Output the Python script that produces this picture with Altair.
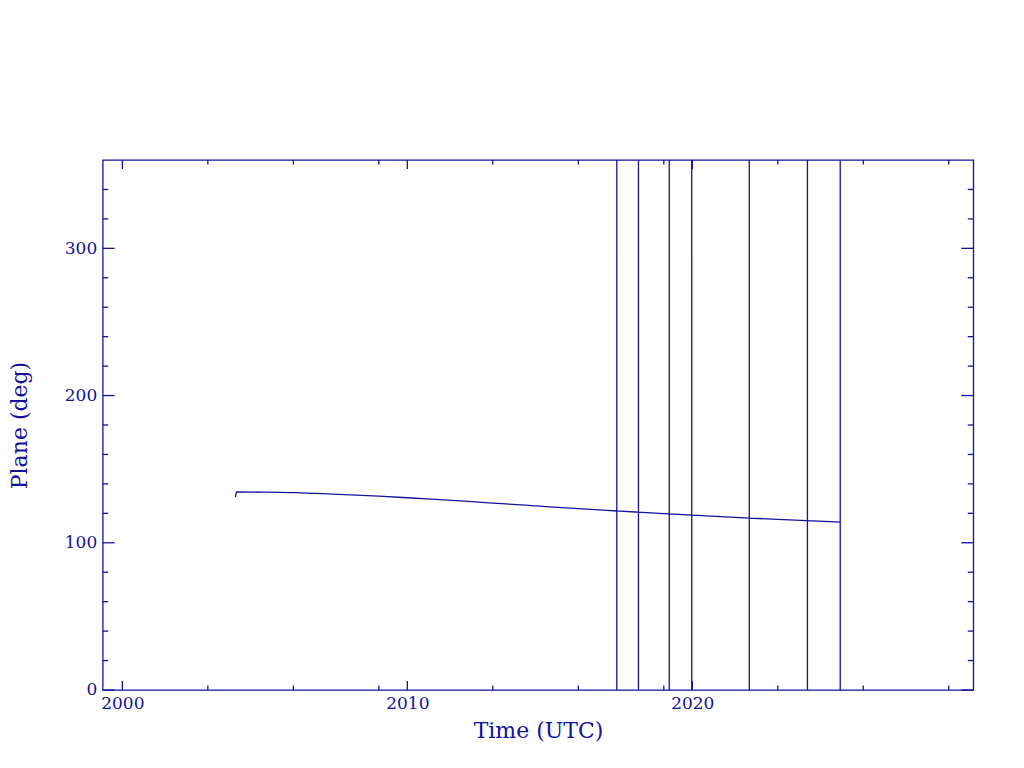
import altair as alt
import pandas as pd

# ---- data ----
years = [2003.97, 2004.0, 2005, 2006, 2007, 2008, 2009, 2010, 2011, 2012, 2013,
         2014, 2015, 2016, 2017, 2018, 2019, 2020, 2021, 2022, 2023, 2024, 2025.19]
plane = [131.0, 134.6, 134.4, 134.0, 133.4, 132.6, 131.7, 130.6, 129.5, 128.3, 127.0,
         125.7, 124.4, 123.2, 122.0, 120.9, 119.8, 118.8, 117.8, 116.8, 115.9, 115.0, 114.1]

# wrap-around jumps (full-height vertical strokes)
jump_years = [2017.35, 2018.11, 2019.19, 2019.98, 2022.0, 2024.04, 2025.19]
jump_values = [121.6, 120.8, 119.6, 118.8, 116.8, 115.0, 114.1]
wrap_low, wrap_high = 0, 360

x_major = [2000, 2010, 2020]
x_minor = [2003, 2006, 2009, 2013, 2016, 2019, 2023, 2026, 2029]
y_major = [0, 100, 200, 300]
y_minor = [20, 40, 60, 80, 120, 140, 160, 180, 220, 240, 260, 280, 320, 340]

x_domain = [1999.31, 2029.86]
y_domain = [0, 360]

# ---- build the line table ----
rows = []
pts = sorted([(t, v, "p") for t, v in zip(years, plane)] +
             [(t, v, "j") for t, v in zip(jump_years, jump_values)], key=lambda r: (r[0], r[2] == "p"))
for t, v, kind in pts:
    if kind == "p":
        if t == years[-1] and t in jump_years:
            continue
        rows.append((t, v))
    else:
        rows.append((t, v))
        rows.append((t, wrap_low))
        rows.append((t, wrap_high))
        if t != jump_years[-1]:
            rows.append((t, v))
df = pd.DataFrame(rows, columns=["year", "plane"])
df["order"] = range(len(df))

W, H = 870.6, 530
C = "#12129e"
FONT = "DejaVu Serif"

xs = alt.Scale(domain=x_domain, nice=False, zero=False)
ys = alt.Scale(domain=y_domain, nice=False)

line = alt.Chart(df).mark_line(color=C, strokeWidth=1.3, clip=True).encode(
    x=alt.X("year:Q", scale=xs,
            axis=alt.Axis(values=x_major, format="d", ticks=False, domain=False, grid=False,
                          title="Time (UTC)", labelPadding=6, titlePadding=9)),
    y=alt.Y("plane:Q", scale=ys,
            axis=alt.Axis(values=y_major, ticks=False, domain=False, grid=False,
                          title="Plane (deg)", labelPadding=6, titlePadding=33)),
    order="order:Q",
)

xmaj = pd.DataFrame({"year": x_major})
xmin = pd.DataFrame({"year": x_minor})
ymaj = pd.DataFrame({"plane": y_major})
ymin = pd.DataFrame({"plane": y_minor})

def xticks(d, L):
    b = alt.Chart(d).mark_rule(color=C, strokeWidth=1.3)
    return (b.encode(x=alt.X("year:Q", scale=xs), y=alt.value(H), y2=alt.value(H - L)) +
            b.encode(x=alt.X("year:Q", scale=xs), y=alt.value(0), y2=alt.value(L)))

def yticks(d, L):
    b = alt.Chart(d).mark_rule(color=C, strokeWidth=1.3)
    return (b.encode(y=alt.Y("plane:Q", scale=ys), x=alt.value(0), x2=alt.value(L)) +
            b.encode(y=alt.Y("plane:Q", scale=ys), x=alt.value(W), x2=alt.value(W - L)))

chart = alt.layer(
    line, xticks(xmaj, 9), xticks(xmin, 4.5), yticks(ymaj, 12), yticks(ymin, 5.5)
).properties(
    width=W, height=H,
    autosize=alt.AutoSizeParams(type="none"),
    padding={"left": 94.7, "top": 152, "right": 35, "bottom": 60},
).configure(
    background="white"
).configure_view(
    stroke=C, strokeWidth=1.3
).configure_axis(
    labelFont=FONT, labelFontSize=17, labelColor=C,
    titleFont=FONT, titleFontSize=22, titleColor=C, titleFontWeight="normal",
)

chart.save("out.html", embed_options={"renderer": "svg", "actions": False})
